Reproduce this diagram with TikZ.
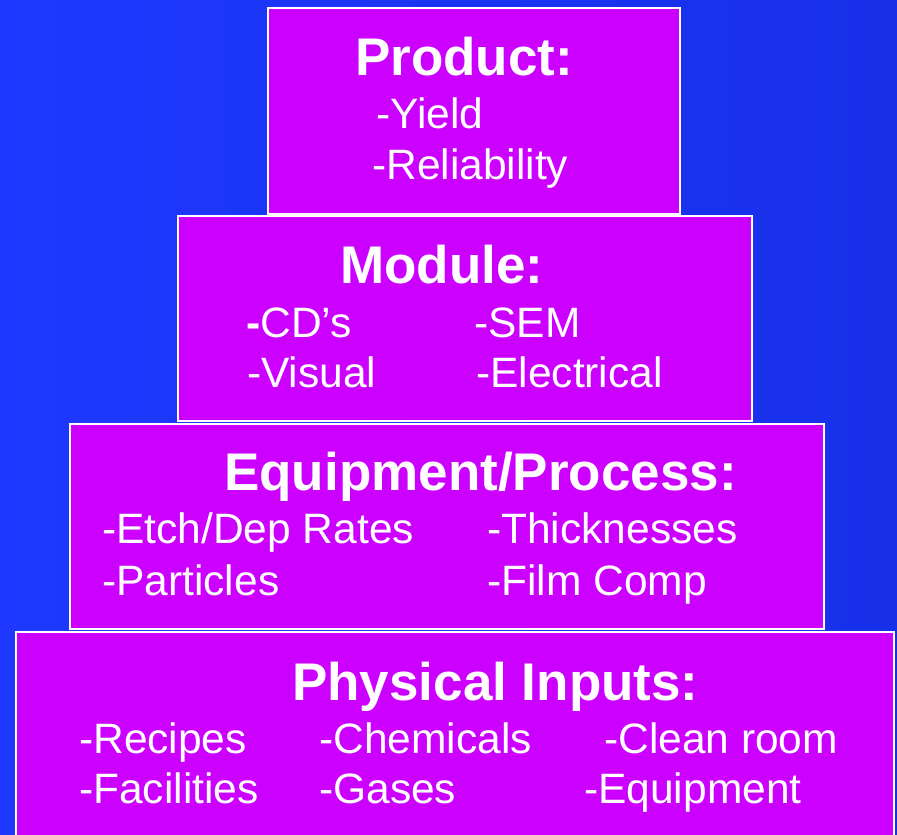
\documentclass[tikz,border=0pt]{standalone}
\usepackage{fontspec}
\setmainfont{Liberation Sans}
\definecolor{bgL}{RGB}{30,56,255}
\definecolor{bgR}{RGB}{24,48,232}
\definecolor{mag}{RGB}{204,0,255}
\tikzset{
  tier/.style={draw=white, line width=2.5pt, fill=mag, inner sep=0pt, outer sep=0pt},
  ttl/.style={text=white, anchor=base west, inner sep=0pt, font=\fontsize{53}{53}\selectfont\bfseries},
  itm/.style={text=white, anchor=base west, inner sep=0pt, font=\fontsize{42.5}{42.5}\selectfont}
}
\begin{document}
\begin{tikzpicture}[x=1pt,y=-1pt]
\useasboundingbox (0,0) rectangle (897,835);
\clip (0,0) rectangle (897,835);
\shade[left color=bgL, right color=bgR] (0,0) rectangle (897,835);
% tiers
\node[tier, minimum width=412pt, minimum height=206pt] (product) at (474,111) {};
\node[tier, minimum width=574pt, minimum height=205pt] (module) at (465,318.5) {};
\node[tier, minimum width=754pt, minimum height=205pt] (equip) at (447,526.5) {};
\node[tier, minimum width=878pt, minimum height=220pt] (phys) at (455,742) {};
% product
\node[ttl] (pt) at (355,75) {Product:};
\node[itm] (p1) at (376,128) {-Yield};
\node[itm] (p2) at (372,179) {-Reliability};
% module
\node[ttl] (mt) at (340,283) {Module:};
\node[itm] (m1) at (246,337) {\textbf{-}CD’s};
\node[itm] (m2) at (474,337) {-SEM};
\node[itm] (m3) at (247,387) {-Visual};
\node[itm] (m4) at (476,387) {-Electrical};
% equipment
\node[ttl] (et) at (224,490) {Equipment/Process:};
\node[itm] (e1) at (102,543) {-Etch/Dep Rates};
\node[itm] (e2) at (487,543) {-Thicknesses};
\node[itm] (e3) at (102,595) {-Particles};
\node[itm] (e4) at (487,595) {-Film Comp};
% physical
\node[ttl] (ft) at (292,700) {Physical Inputs:};
\node[itm] (f1) at (79,753) {-Recipes};
\node[itm] (f2) at (319,753) {-Chemicals};
\node[itm] (f3) at (604,753) {-Clean room};
\node[itm] (f4) at (79,803) {-Facilities};
\node[itm] (f5) at (319,803) {-Gases};
\node[itm] (f6) at (584,803) {-Equipment};
\end{tikzpicture}
\end{document}
